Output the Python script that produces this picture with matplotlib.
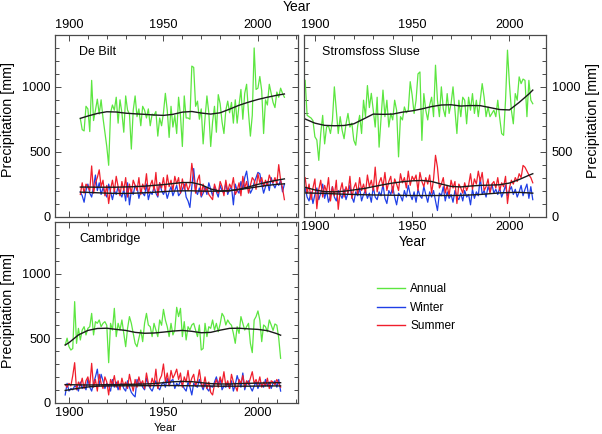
import numpy as np
import matplotlib
matplotlib.use("Agg")
import matplotlib.pyplot as plt
from matplotlib.ticker import MultipleLocator
from matplotlib.lines import Line2D

plt.rcParams['font.family'] = ['Liberation Sans', 'DejaVu Sans']

# ---------------- DATA ----------------
# De Bilt 1906-2014
db_years = np.arange(1906, 2015)
db_annual = [755, 670, 660, 850, 830, 655, 1050, 740, 820, 905,
             790, 900, 760, 650, 540, 395, 800, 860, 820, 920,
             720, 900, 800, 650, 930, 820, 790, 520, 820, 930,
             770, 830, 700, 850, 820, 760, 830, 700, 790, 780,
             810, 620, 760, 700, 800, 950, 820, 610, 850, 690,
             780, 640, 920, 780, 540, 930, 760, 760, 750, 1160,
             1150, 850, 890, 750, 830, 560, 760, 930, 800, 540,
             730, 850, 650, 940, 870, 730, 640, 820, 890, 800,
             880, 720, 900, 720, 860, 980, 750, 950, 1020, 800,
             620, 780, 1300, 980, 990, 1080, 970, 640, 900, 860,
             1020, 950, 880, 840, 960, 920, 990, 950, 920]
db_summer = [170, 260, 180, 250, 230, 200, 390, 180, 260, 300,
             360, 230, 280, 160, 240, 100, 210, 280, 190, 310,
             230, 160, 270, 200, 300, 150, 250, 180, 280, 240,
             200, 300, 170, 250, 210, 330, 180, 240, 280, 200,
             340, 160, 260, 220, 300, 190, 320, 230, 280, 200,
             310, 250, 300, 180, 290, 210, 260, 200, 240, 410,
             300, 180, 280, 320, 160, 250, 190, 220, 170, 150,
             130, 250, 200, 180, 270, 230, 160, 280, 190, 250,
             220, 300, 170, 200, 260, 160, 310, 220, 270, 180,
             240, 300, 280, 210, 330, 260, 300, 230, 280, 240,
             320, 280, 260, 300, 250, 400, 280, 220, 130]
db_winter = [190, 160, 110, 200, 250, 180, 150, 230, 320, 200,
             260, 170, 220, 180, 150, 250, 190, 130, 200, 170,
             230, 180, 150, 210, 120, 260, 90, 200, 170, 240,
             230, 140, 200, 180, 160, 250, 130, 190, 170, 230,
             180, 150, 260, 200, 170, 210, 140, 190, 230, 160,
             200, 240, 160, 180, 210, 250, 150, 120, 70, 230,
             370, 200, 170, 220, 150, 180, 230, 170, 260, 210,
             160, 230, 190, 150, 240, 200, 180, 260, 170, 210,
             230, 90, 250, 200, 180, 270, 210, 300, 350, 240,
             180, 210, 260, 300, 340, 330, 250, 180, 230, 270,
             200, 300, 250, 220, 260, 240, 280, 190, 250]
db_trend_years = [1906, 1910, 1915, 1920, 1925, 1930, 1935, 1940, 1945, 1950, 1955, 1960,
                  1965, 1970, 1975, 1980, 1985, 1990, 1995, 2000, 2005, 2010, 2014]
db_trend_annual = [757, 775, 795, 808, 806, 797, 792, 788, 783, 780, 788, 805,
                   810, 798, 790, 800, 828, 858, 882, 903, 920, 935, 945]
db_trend_summer = [227, 227, 226, 226, 226, 228, 230, 234, 240, 246, 254, 262,
                   262, 245, 212, 196, 198, 210, 228, 248, 265, 280, 290]
db_trend_winter = [188, 186, 183, 180, 178, 178, 180, 183, 187, 192, 196, 198,
                   198, 196, 195, 196, 200, 208, 218, 230, 240, 248, 252]

# Stromsfoss Sluse 1895-2012
ss_years = np.arange(1895, 2013)
ss_annual = [1050, 780, 770, 760, 740, 615, 590, 433, 640, 780,
             560, 690, 700, 640, 740, 1000, 820, 640, 770, 665,
             600, 715, 795, 690, 720, 588, 550, 700, 780, 640,
             897, 770, 1010, 840, 950, 820, 690, 920, 535, 755,
             975, 770, 897, 690, 795, 745, 897, 820, 460, 770,
             745, 845, 800, 820, 1040, 935, 795, 897, 1100, 1115,
             587, 948, 820, 745, 860, 920, 770, 1167, 897, 770,
             1000, 830, 770, 948, 795, 870, 1000, 820, 640, 897,
             770, 920, 897, 715, 920, 820, 948, 795, 897, 770,
             897, 1025, 920, 770, 845, 770, 795, 820, 770, 897,
             760, 640, 626, 897, 1283, 1025, 820, 715, 948, 897,
             1077, 1025, 1060, 1050, 770, 1050, 897, 870]
ss_summer = [300, 180, 250, 130, 220, 290, 60, 210, 280, 150,
             240, 190, 300, 120, 230, 160, 280, 55, 200, 260,
             150, 230, 180, 310, 140, 220, 260, 170, 300, 200,
             250, 180, 320, 230, 280, 200, 381, 190, 260, 300,
             230, 340, 200, 270, 310, 180, 290, 250, 200, 330,
             260, 300, 220, 350, 240, 310, 280, 320, 200, 340,
             270, 230, 300, 250, 320, 180, 290, 472, 380, 220,
             250, 300, 180, 240, 160, 280, 220, 270, 100, 250,
             220, 180, 260, 200, 240, 330, 210, 290, 250, 350,
             270, 340, 200, 230, 290, 180, 250, 270, 220, 300,
             200, 260, 230, 310, 100, 220, 280, 250, 300, 270,
             330, 300, 394, 380, 350, 320, 300, 260]
ss_winter = [220, 150, 120, 190, 100, 170, 220, 130, 180, 250,
             140, 200, 110, 160, 230, 150, 120, 200, 170, 140,
             210, 130, 180, 240, 150, 110, 190, 160, 220, 120,
             170, 200, 140, 180, 110, 230, 150, 130, 190, 160,
             250, 140, 100, 200, 170, 230, 150, 90, 180, 160,
             120, 200, 150, 240, 170, 130, 190, 110, 210, 160,
             140, 230, 170, 110, 190, 150, 200, 120, 46, 180,
             160, 230, 120, 190, 140, 170, 110, 200, 150, 130,
             180, 120, 200, 150, 170, 90, 210, 140, 190, 160,
             300, 170, 200, 150, 230, 190, 250, 180, 210, 170,
             220, 150, 190, 240, 160, 200, 230, 170, 210, 150,
             190, 240, 160, 210, 250, 140, 230, 130]
ss_trend_years = [1895, 1900, 1905, 1910, 1915, 1920, 1925, 1930, 1935, 1940, 1945, 1950, 1955,
                  1960, 1965, 1970, 1975, 1980, 1985, 1990, 1995, 2000, 2005, 2010, 2012]
ss_trend_annual = [752, 720, 703, 700, 702, 715, 752, 790, 788, 790, 805, 815, 830,
                   848, 860, 862, 852, 856, 855, 840, 825, 822, 880, 945, 975]
ss_trend_summer = [225, 205, 192, 190, 195, 205, 215, 230, 245, 258, 268, 275, 278,
                   270, 250, 232, 228, 235, 240, 242, 245, 258, 285, 318, 330]
ss_trend_winter = [182, 180, 178, 175, 172, 170, 168, 166, 165, 164, 163, 162, 162,
                   162, 162, 162, 163, 166, 170, 176, 182, 185, 186, 182, 180]

# Cambridge 1898-2012
cb_years = np.arange(1898, 2013)
cb_annual = [447, 500, 434, 408, 420, 783, 460, 576, 486, 563,
             589, 525, 576, 589, 692, 525, 628, 615, 641, 589,
             615, 628, 600, 310, 615, 563, 731, 512, 615, 563,
             641, 537, 434, 576, 667, 615, 537, 460, 434, 500,
             563, 473, 615, 692, 602, 589, 512, 615, 563, 512,
             641, 600, 723, 641, 589, 512, 615, 525, 563, 739,
             667, 731, 512, 628, 486, 589, 563, 602, 615, 563,
             512, 602, 408, 420, 615, 512, 589, 576, 641, 563,
             615, 550, 610, 692, 667, 602, 641, 615, 600, 537,
             460, 589, 537, 667, 615, 563, 589, 615, 460, 388,
             641, 667, 711, 640, 473, 602, 589, 550, 641, 602,
             560, 610, 600, 500, 344]
cb_summer = [140, 120, 150, 130, 210, 310, 100, 160, 130, 190,
             110, 170, 200, 130, 305, 120, 180, 90, 220, 150,
             110, 200, 160, 60, 180, 140, 210, 120, 170, 100,
             190, 130, 160, 110, 220, 150, 90, 180, 120, 200,
             140, 170, 110, 230, 150, 120, 190, 140, 260, 110,
             180, 210, 300, 160, 230, 140, 250, 190, 220, 260,
             180, 230, 120, 200, 160, 250, 140, 190, 220, 130,
             170, 255, 150, 120, 200, 110, 160, 80, 60, 140,
             180, 120, 200, 150, 240, 130, 170, 110, 220, 160,
             130, 90, 180, 150, 210, 120, 170, 140, 190, 240,
             150, 180, 140, 200, 120, 160, 130, 190, 110, 170,
             160, 140, 180, 150, 120]
cb_winter = [60, 150, 90, 110, 100, 130, 120, 90, 160, 110,
             140, 100, 180, 120, 90, 150, 200, 260, 130, 220,
             170, 110, 150, 130, 90, 180, 120, 160, 100, 140,
             150, 110, 90, 170, 120, 80, 60, 45, 180, 140,
             160, 120, 100, 190, 140, 110, 90, 130, 170, 120,
             100, 140, 160, 120, 190, 130, 170, 180, 110, 150,
             130, 170, 140, 110, 90, 160, 120, 60, 150, 130,
             120, 180, 140, 100, 150, 110, 90, 130, 120, 160,
             200, 140, 190, 100, 130, 120, 150, 110, 170, 90,
             140, 210, 160, 120, 230, 100, 150, 170, 120, 90,
             130, 160, 110, 150, 140, 120, 180, 130, 160, 110,
             150, 170, 120, 180, 90]
cb_trend_years = [1898, 1900, 1905, 1910, 1915, 1920, 1925, 1930, 1935, 1940, 1945, 1950, 1955,
                  1960, 1965, 1970, 1975, 1980, 1985, 1990, 1995, 2000, 2005, 2010, 2012]
cb_trend_annual = [447, 465, 525, 560, 575, 577, 568, 560, 545, 538, 540, 547, 555,
                   560, 553, 542, 545, 562, 576, 577, 572, 568, 558, 535, 523]
cb_trend_summer = [140, 140, 138, 137, 138, 140, 140, 142, 143, 145, 148, 155, 162,
                   165, 163, 155, 148, 145, 145, 148, 150, 152, 153, 155, 155]
cb_trend_winter = [95, 100, 112, 122, 128, 130, 131, 131, 131, 132, 132, 133, 133,
                   132, 131, 130, 129, 128, 128, 128, 128, 129, 130, 130, 130]

station_names = ["De Bilt", "Stromsfoss Sluse", "Cambridge"]
series_labels = ["Annual", "Winter", "Summer"]

# ---------------- STYLE ----------------
C_ANN = '#5ce640'
C_WIN = '#1f3fe6'
C_SUM = '#f01e2c'
FRAME = '#4a4a4a'
W, H = 602, 434
TICK_FS = 9.2
LAB_FS = 10.3

fig = plt.figure(figsize=(W / 100, H / 100), dpi=100)


def px_axes(l, t, r, b):
    return fig.add_axes([l / W, 1 - b / H, (r - l) / W, (b - t) / H])


ax_db = px_axes(55, 35, 298, 216.5)
ax_ss = px_axes(304, 35, 546, 216.5)
ax_cb = px_axes(55, 222, 298, 402.7)


def style(ax, xlim):
    ax.set_xlim(*xlim)
    ax.set_ylim(0, 1400)
    ax.xaxis.set_major_locator(MultipleLocator(50))
    ax.xaxis.set_minor_locator(MultipleLocator(10))
    ax.yaxis.set_major_locator(MultipleLocator(500))
    ax.yaxis.set_minor_locator(MultipleLocator(100))
    ax.tick_params(which='both', direction='in', top=True, bottom=True, left=True, right=True,
                   color=FRAME, labelcolor='black', labelsize=TICK_FS, width=0.7)
    ax.tick_params(which='major', length=4.3, pad=3)
    ax.tick_params(which='minor', length=2.9)
    for s in ax.spines.values():
        s.set_color(FRAME)
        s.set_linewidth(0.9)


def draw(ax, years, ann, win, summ, tyears, tann, twin, tsum, name, title_x):
    ax.plot(years, ann, color=C_ANN, lw=0.9)
    ax.plot(years, win, color=C_WIN, lw=0.9)
    ax.plot(years, summ, color=C_SUM, lw=0.9)
    for tv in (tann, twin, tsum):
        ax.plot(tyears, tv, color='#1a1a1a', lw=1.0)
    ax.text(title_x, 0.906, name, transform=ax.transAxes, ha='left', va='center', fontsize=9)


style(ax_db, (1892.6, 2021.2))
style(ax_ss, (1894.4, 2018.8))
style(ax_cb, (1892.6, 2021.2))

draw(ax_db, db_years, db_annual, db_winter, db_summer, db_trend_years,
     db_trend_annual, db_trend_winter, db_trend_summer, station_names[0], 0.099)
draw(ax_ss, ss_years, ss_annual, ss_winter, ss_summer, ss_trend_years,
     ss_trend_annual, ss_trend_winter, ss_trend_summer, station_names[1], 0.076)
draw(ax_cb, cb_years, cb_annual, cb_winter, cb_summer, cb_trend_years,
     cb_trend_annual, cb_trend_winter, cb_trend_summer, station_names[2], 0.099)

# tick label visibility
ax_db.tick_params(which='both', labeltop=True, labelbottom=False, labelleft=True, labelright=False)
ax_ss.tick_params(which='both', labeltop=True, labelbottom=True, labelleft=False, labelright=True)
ax_ss.tick_params(axis='y', which='major', pad=4.3)
ax_cb.tick_params(which='both', labeltop=False, labelbottom=True, labelleft=True, labelright=False)

# axis labels
ax_db.set_ylabel("Precipitation [mm]", fontsize=LAB_FS, va='center')
ax_db.yaxis.set_label_coords(-0.192, 0.537)
ax_cb.set_ylabel("Precipitation [mm]", fontsize=LAB_FS, va='center')
ax_cb.yaxis.set_label_coords(-0.192, 0.509)
ax_ss.yaxis.set_label_position('right')
ax_ss.set_ylabel("Precipitation [mm]", fontsize=LAB_FS, va='center', rotation=90)
ax_ss.yaxis.set_label_coords((593 - 304) / 242, 0.53)

ax_ss.set_xlabel("Year", fontsize=9.8, va='center')
ax_ss.xaxis.set_label_coords((413 - 304) / 242, -0.139)
ax_cb.set_xlabel("Year", fontsize=8.2, va='center')
ax_cb.xaxis.set_label_coords(0.453, -0.14)
fig.text(297 / W, 1 - 7 / H, "Year", ha='center', va='center', fontsize=10)

# legend
handles = [Line2D([], [], color=c, lw=1.0) for c in (C_ANN, C_WIN, C_SUM)]
fig.legend(handles, series_labels, loc='upper left', bbox_to_anchor=(377 / W, 1 - 283 / H),
           frameon=False, fontsize=8.6, borderpad=0, borderaxespad=0, handlelength=2.37,
           handletextpad=0.42, labelspacing=0.56)

fig.savefig("out.png", dpi=100)
